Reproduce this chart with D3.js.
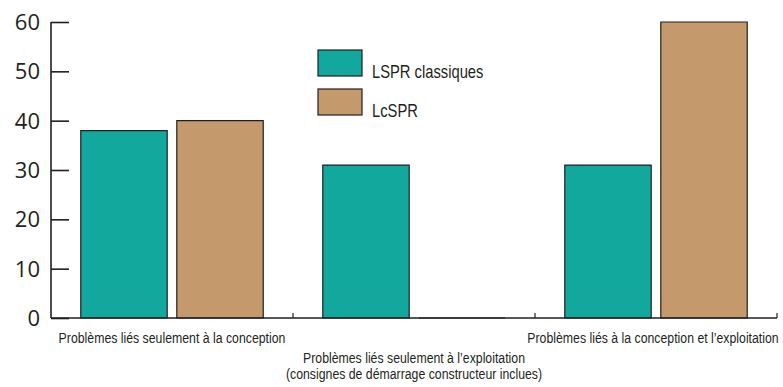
<!DOCTYPE html>
<html>
<head>
<meta charset="utf-8">
<script src="https://cdn.jsdelivr.net/npm/d3@7"></script>
<style>
  html, body { margin: 0; padding: 0; background: #fff; }
  svg { display: block; }
</style>
</head>
<body>
<svg id="chart" width="783" height="387"></svg>
<script>
// Problem categories (second one is split over two lines)
const categories = [
  ["Problèmes liés seulement à la conception"],
  ["Problèmes liés seulement à l’exploitation", "(consignes de démarrage constructeur inclues)"],
  ["Problèmes liés à la conception et l’exploitation"]
];
const seriesNames = ["LSPR classiques", "LcSPR"];
const lsprValues = [38, 31, 31];
const lcsprValues = [40, 0, 60];
const yTicks = [0, 10, 20, 30, 40, 50, 60];
const colors = ["#13a89e", "#c49a6c"];

const svg = d3.select("#chart");
const margin = { left: 51, right: 6, top: 22, bottom: 69 };
const W = 783, H = 387;
const x0 = margin.left, x1 = W - margin.right;
const yBase = H - margin.bottom;

const catKeys = categories.map((c, i) => i);
const x = d3.scaleBand().domain(catKeys).range([x0, x1]).padding(0);
const xs = d3.scaleBand().domain(seriesNames).range([0, x.bandwidth()])
  .paddingInner(0.1).paddingOuter(0.31);
const y = d3.scaleLinear().domain([0, 60]).range([yBase, margin.top]);

const stroke = "#231f20";
const textFont = "'Liberation Sans', Arial, sans-serif";
const condense = 0.82; // narrow sans look

// helper: condensed text placed at (px, py)
function narrowText(g, px, py, str, size, anchor) {
  return g.append("text")
    .attr("transform", `translate(${px},${py}) scale(${condense},1)`)
    .attr("text-anchor", anchor)
    .attr("font-family", textFont)
    .attr("font-size", size)
    .attr("fill", "#231f20")
    .text(str);
}

// bars (drawn as paths so zero values still show as a baseline segment)
const rows = [];
catKeys.forEach(i => {
  rows.push({ cat: i, s: seriesNames[0], v: lsprValues[i], c: colors[0] });
  rows.push({ cat: i, s: seriesNames[1], v: lcsprValues[i], c: colors[1] });
});
svg.append("g").selectAll("path").data(rows).join("path")
  .attr("d", d => {
    const bx = x(d.cat) + xs(d.s), bw = xs.bandwidth();
    const top = y(d.v), bot = y(0);
    return `M${bx},${bot}V${top}H${bx + bw}V${bot}Z`;
  })
  .attr("fill", d => d.c)
  .attr("stroke", stroke)
  .attr("stroke-width", 1.2);

// y axis with inward ticks
const yAxis = d3.axisRight(y).tickValues(yTicks).tickSize(18).tickFormat("");
const gy = svg.append("g").attr("transform", `translate(${x0},0)`).call(yAxis);
gy.select(".domain").remove();
gy.selectAll(".tick line").attr("stroke", stroke).attr("stroke-width", 1.6);
svg.append("line").attr("x1", x0).attr("x2", x0)
  .attr("y1", y(60)).attr("y2", yBase)
  .attr("stroke", stroke).attr("stroke-width", 1.6);

svg.append("g").selectAll("text").data(yTicks).join("text")
  .attr("x", x0 - 11).attr("y", d => y(d))
  .attr("dy", "0.36em")
  .attr("text-anchor", "end")
  .attr("font-family", "'Open Sans', sans-serif")
  .attr("font-size", 22)
  .attr("fill", "#231f20")
  .text(d => d);

// baseline
svg.append("line").attr("x1", x0).attr("x2", x1)
  .attr("y1", yBase).attr("y2", yBase)
  .attr("stroke", stroke).attr("stroke-width", 1.6);

// small upward ticks at category boundaries
svg.append("g").selectAll("line").data(catKeys).join("line")
  .attr("x1", d => x(d) + x.bandwidth()).attr("x2", d => x(d) + x.bandwidth())
  .attr("y1", yBase).attr("y2", yBase - 5)
  .attr("stroke", stroke).attr("stroke-width", 1.2);

// category labels: middle one sits lower so they do not overlap
const lbl = svg.append("g");
categories.forEach((lines, i) => {
  const cx = x(i) + x.bandwidth() / 2 - (i === 2 ? 3 : 0);
  const startY = i === 1 ? 363 : 343;
  lines.forEach((t, j) => narrowText(lbl, cx, startY + j * 16, t, 15, "middle"));
});

// legend
const lg = svg.append("g").attr("transform", "translate(318,50)");
seriesNames.forEach((s, i) => {
  lg.append("rect").attr("x", 0).attr("y", i * 39).attr("width", 44).attr("height", 26)
    .attr("fill", colors[i]).attr("stroke", stroke).attr("stroke-width", 1.2);
  narrowText(lg, 54, i * 39 + 28, s, 18, "start");
});
</script>
</body>
</html>
